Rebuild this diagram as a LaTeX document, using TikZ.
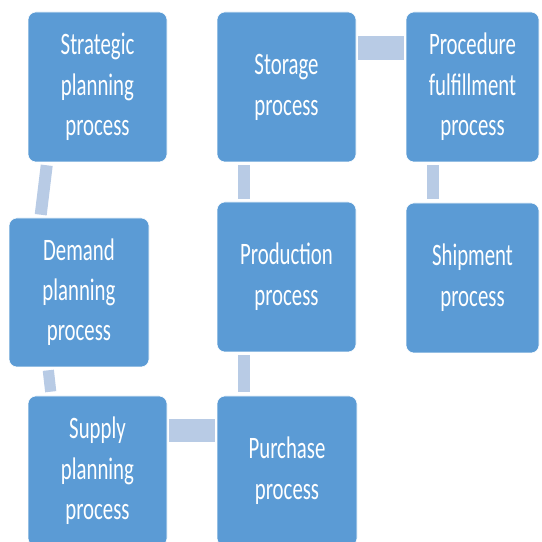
\documentclass[tikz,border=0pt]{standalone}
\usepackage{fontspec}
\setmainfont{Carlito}
\usepackage{graphicx}

% tall, narrow lettering of the boxes
\newcommand{\steplabel}[1]{\scalebox{1}[1.5]{\begin{tabular}{@{}c@{}}#1\end{tabular}}}

\begin{document}
\begin{tikzpicture}[
  procbox/.style={shape=rectangle,draw=white,line width=0.4pt,fill=chain_box,
    rounded corners=0.2cm,minimum width=3.475cm,minimum height=3.75cm,
    inner sep=0pt,text=white,font=\fontsize{14.8}{19}\selectfont},
  linkbar/.style={color=chain_link,line width=0.3cm}]
\definecolor{chain_box}{RGB}{91,155,213}
\definecolor{chain_link}{RGB}{184,203,229}
\useasboundingbox (0,0) rectangle (13.525,13.55);
\clip (0,0) rectangle (13.525,13.55);

\node[procbox] (strategic) at (2.4375,11.375) {\steplabel{Strategic\\planning\\process}};
\node[procbox] (storage) at (7.1625,11.375) {\steplabel{Storage\\process}};
\node[procbox,minimum width=3.325cm] (fulfil) at (11.8125,11.375) {\steplabel{Procedure\\fulfillment\\process}};
\node[procbox,minimum width=3.5cm,minimum height=3.725cm] (demand) at (1.975,6.2375) {\steplabel{Demand\\planning\\process}};
\node[procbox] (production) at (7.1625,6.625) {\steplabel{Production\\process}};
\node[procbox,minimum width=3.325cm] (shipment) at (11.8125,6.6) {\steplabel{Shipment\\process}};
\node[procbox] (supply) at (2.4375,1.775) {\steplabel{Supply\\planning\\process}};
\node[procbox,minimum width=3.5cm] (purchase) at (7.175,1.775) {\steplabel{Purchase\\process}};

% vertical links
\draw[linkbar] ([xshift=0.475cm,yshift=-0.075cm]strategic.south west) to ([xshift=0.8cm,yshift=0.075cm]demand.north west);
\draw[linkbar,line width=0.28cm] ([xshift=0.99cm,yshift=-0.075cm]demand.south west) to ([xshift=0.575cm,yshift=0.1cm]supply.north west);
\draw[linkbar] ([xshift=0.675cm,yshift=-0.075cm]storage.south west) to ([xshift=0.675cm,yshift=0.075cm]production.north west);
\draw[linkbar] ([xshift=0.675cm,yshift=-0.075cm]production.south west) to ([xshift=0.675cm,yshift=0.1cm]purchase.north west);
\draw[linkbar] ([xshift=0.675cm,yshift=-0.075cm]fulfil.south west) to ([xshift=0.675cm,yshift=0.1cm]shipment.north west);
% horizontal links
\draw[linkbar,line width=0.6cm] ([xshift=0.05cm,yshift=-0.9cm]storage.north east) to ([xshift=-0.05cm,yshift=-0.9cm]fulfil.north west);
\draw[linkbar,line width=0.575cm] ([xshift=0.05cm,yshift=-0.8625cm]supply.north east) to ([xshift=-0.05cm,yshift=-0.8625cm]purchase.north west);
\end{tikzpicture}
\end{document}
